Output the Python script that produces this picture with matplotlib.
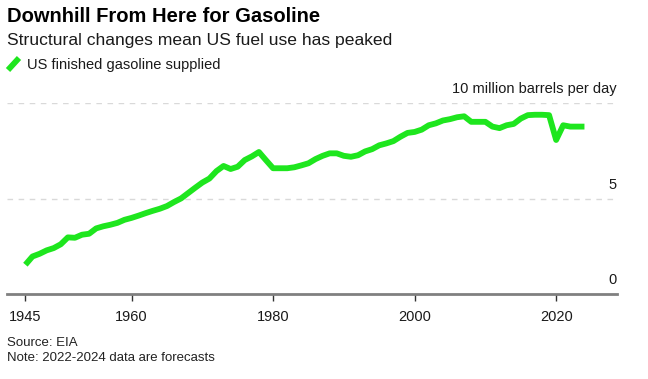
import matplotlib
matplotlib.use("Agg")
import matplotlib.pyplot as plt
from matplotlib.lines import Line2D

plt.rcParams['font.family'] = ['Liberation Sans', 'DejaVu Sans']

years = list(range(1945, 2025))
gasoline = [
    1.55, 1.98, 2.12, 2.30, 2.42, 2.62, 2.98, 2.96, 3.12, 3.17,
    3.45, 3.56, 3.64, 3.74, 3.90, 4.00, 4.12, 4.25, 4.37, 4.48,
    4.62, 4.83, 5.02, 5.30, 5.58, 5.85, 6.06, 6.45, 6.72, 6.56,
    6.68, 7.03, 7.22, 7.45, 7.02, 6.60, 6.60, 6.60, 6.65, 6.75,
    6.86, 7.08, 7.25, 7.38, 7.38, 7.25, 7.20, 7.28, 7.48, 7.60,
    7.80, 7.90, 8.02, 8.25, 8.45, 8.50, 8.62, 8.85, 8.95, 9.10,
    9.17, 9.27, 9.32, 9.03, 9.03, 9.03, 8.78, 8.70, 8.85, 8.92,
    9.20, 9.38, 9.40, 9.40, 9.38, 8.08, 8.85, 8.78, 8.78, 8.78,
]
xticks = [1945, 1960, 1980, 2000, 2020]
yticks = [0, 5, 10]
ytick_labels = ["0", "5", "10 million barrels per day"]

GREEN = "#1EE61E"
W, H = 648, 379
fig = plt.figure(figsize=(W / 100, H / 100), dpi=100)

# axes placement in pixels
x0, x1 = 7, 617
y0, y1 = 294.3, 103.3
ax = fig.add_axes([x0 / W, 1 - y0 / H, (x1 - x0) / W, (y0 - y1) / H])
ax.set_xlim(1942.4, 2028.6)
ax.set_ylim(0, 10)

for v in yticks[1:]:
    ax.axhline(v, color="#d9d9d9", lw=1.0, ls=(0, (4, 4)), zorder=1)

ax.plot(years, gasoline, color=GREEN, lw=4.2, solid_joinstyle="round",
        solid_capstyle="butt", zorder=3, clip_on=False)

for s in ["top", "right", "left"]:
    ax.spines[s].set_visible(False)
ax.spines["bottom"].set_color("#808080")
ax.spines["bottom"].set_linewidth(2.0)
ax.set_yticks([])
ax.set_xticks(xticks)
ax.set_xticklabels([str(t) for t in xticks], fontsize=10.5, color="#1a1a1a")
ax.tick_params(axis="x", length=5, width=1, color="#333333", pad=6)

for v, lab in zip(yticks, ytick_labels):
    ax.annotate(lab, xy=(1, v), xycoords=("axes fraction", "data"),
                xytext=(0, 5), textcoords="offset points",
                ha="right", va="bottom", fontsize=10.5, color="#1a1a1a")

fig.text(7 / W, 1 - 16 / H, "Downhill From Here for Gasoline", fontsize=14.5,
         fontweight="bold", ha="left", va="center", color="#000000")
fig.text(7 / W, 1 - 40 / H, "Structural changes mean US fuel use has peaked",
         fontsize=12.6, ha="left", va="center", color="#1a1a1a")
fig.add_artist(Line2D([8 / W, 19 / W], [1 - 70 / H, 1 - 58 / H],
                      color=GREEN, lw=4.2, solid_capstyle="butt",
                      transform=fig.transFigure))
fig.text(27 / W, 1 - 64.5 / H, "US finished gasoline supplied", fontsize=10.5,
         ha="left", va="center", color="#1a1a1a")

fig.text(7 / W, 1 - 343 / H, "Source: EIA", fontsize=9.5, ha="left",
         va="center", color="#222222")
fig.text(7 / W, 1 - 358 / H, "Note: 2022-2024 data are forecasts",
         fontsize=9.5, ha="left", va="center", color="#222222")

fig.savefig("out.png", dpi=100)
